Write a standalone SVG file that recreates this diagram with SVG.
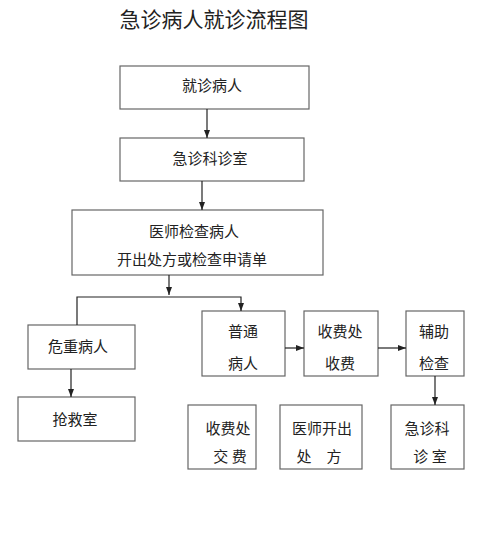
<svg xmlns="http://www.w3.org/2000/svg" width="480" height="538" viewBox="0 0 480 538">
<defs>
<marker id="ah" viewBox="0 0 8 8" refX="8" refY="4" markerWidth="8" markerHeight="8" markerUnits="userSpaceOnUse" orient="auto">
<path d="M0,1 L8,4 L0,7 Z" fill="#222"/>
</marker>
<style>
.box{fill:#fff;stroke:#666;stroke-width:1.2}
.t{font-family:"Noto Sans CJK SC","Noto Sans CJK JP",sans-serif;font-size:15px;fill:#222;text-anchor:middle;dominant-baseline:central}
.title{font-family:"Noto Sans CJK SC","Noto Sans CJK JP",sans-serif;font-size:21px;fill:#222;text-anchor:middle;dominant-baseline:central}
.c{fill:none;stroke:#222;stroke-width:1.2}
</style>
</defs>
<rect width="480" height="538" fill="#fff"/>
<text class="title" x="214" y="17.5">急诊病人就诊流程图</text>
<g id="n1"><rect class="box" x="120" y="66" width="189" height="43"/><text class="t" x="212" y="84">就诊病人</text></g>
<g id="n2"><rect class="box" x="120" y="138" width="184" height="43"/><text class="t" x="210" y="157">急诊科诊室</text></g>
<g id="n3"><rect class="box" x="72" y="210" width="251" height="65"/><text class="t" x="194" y="230">医师检查病人</text><text class="t" x="192" y="258">开出处方或检查申请单</text></g>
<g id="n4"><rect class="box" x="28" y="325" width="107" height="44"/><text class="t" x="78" y="345">危重病人</text></g>
<g id="n5"><rect class="box" x="18" y="397" width="117" height="44"/><text class="t" x="75" y="418">抢救室</text></g>
<g id="n6"><rect class="box" x="202" y="311" width="83" height="65"/><text class="t" x="243" y="330">普通</text><text class="t" x="243" y="362">病人</text></g>
<g id="n7"><rect class="box" x="304" y="311" width="74" height="65"/><text class="t" x="340" y="330">收费处</text><text class="t" x="340" y="362">收费</text></g>
<g id="n8"><rect class="box" x="406" y="311" width="58" height="65"/><text class="t" x="434" y="330">辅助</text><text class="t" x="434" y="362">检查</text></g>
<g id="n9"><rect class="box" x="391" y="405" width="73" height="64"/><text class="t" x="427" y="427">急诊科</text><text class="t" x="430" y="455">诊 室</text></g>
<g id="n10"><rect class="box" x="188" y="405" width="68" height="64"/><text class="t" x="228" y="427">收费处</text><text class="t" x="230" y="455">交 费</text></g>
<g id="n11"><rect class="box" x="280" y="405" width="82" height="64"/><text class="t" x="322" y="427">医师开出</text><text class="t" x="319" y="455">处　方</text></g>
<g id="connectors">
<line class="c" x1="207" y1="109" x2="207" y2="138" marker-end="url(#ah)"/>
<line class="c" x1="202" y1="181" x2="202" y2="210" marker-end="url(#ah)"/>
<line class="c" x1="169" y1="275" x2="169" y2="295" marker-end="url(#ah)"/>
<polyline class="c" points="77,325 77,297 241,297 241,311" marker-end="url(#ah)"/>
<line class="c" x1="71" y1="369" x2="71" y2="397" marker-end="url(#ah)"/>
<line class="c" x1="285" y1="348" x2="304" y2="348" marker-end="url(#ah)"/>
<line class="c" x1="378" y1="348" x2="406" y2="348" marker-end="url(#ah)"/>
<line class="c" x1="435" y1="376" x2="435" y2="405" marker-end="url(#ah)"/>
</g>
</svg>
